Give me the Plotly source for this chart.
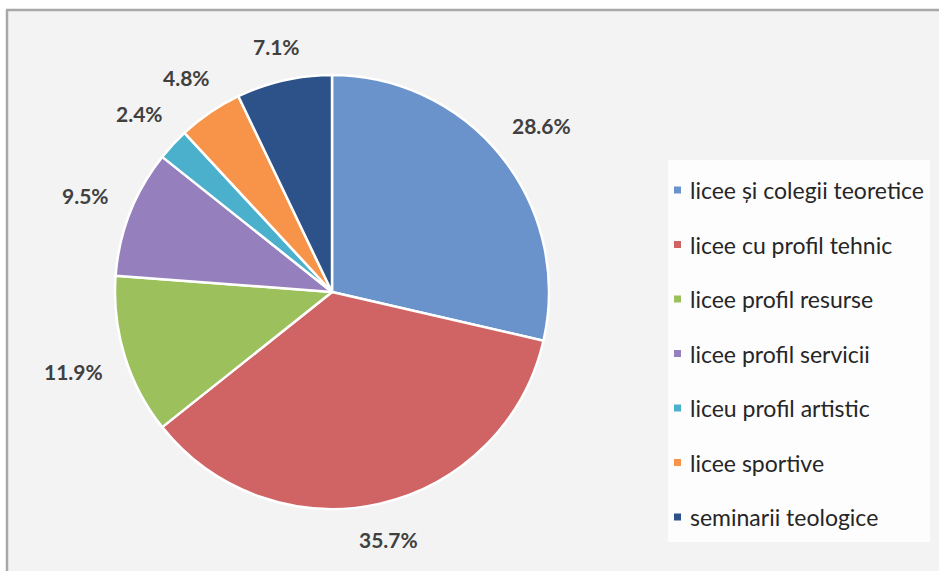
import math
import plotly.graph_objects as go

categories = [
    "licee și colegii teoretice",
    "licee cu profil tehnic",
    "licee profil resurse",
    "licee profil servicii",
    "liceu profil artistic",
    "licee sportive",
    "seminarii teologice",
]
values = [28.6, 35.7, 11.9, 9.5, 2.4, 4.8, 7.1]
labels_text = ["28.6%", "35.7%", "11.9%", "9.5%", "2.4%", "4.8%", "7.1%"]
colors = ["#6b93cb", "#d06464", "#9cc05c", "#9580bd", "#4bb0cb", "#f7944a", "#2c5289"]

W, H = 939, 571
# pie geometry (pixels)
cx, cy, R = 332, 292, 217

fig = go.Figure()
fig.add_trace(go.Pie(
    labels=categories,
    values=values,
    sort=False,
    direction="clockwise",
    rotation=0,
    marker=dict(colors=colors, line=dict(color="white", width=2.5)),
    textinfo="none",
    hoverinfo="label+percent",
    showlegend=False,
    domain=dict(x=[(cx - R) / W, (cx + R) / W], y=[1 - (cy + R) / H, 1 - (cy - R) / H]),
))

shapes = []
annotations = []

# chart frame
shapes.append(dict(type="rect", xref="paper", yref="paper", x0=7 / W, x1=1.01, y0=-0.01, y1=1 - 10 / H,
                   fillcolor="#f3f3f3", line=dict(width=0), layer="below"))
shapes.append(dict(type="line", xref="paper", yref="paper", x0=6 / W, x1=1.0, y0=1 - 10 / H, y1=1 - 10 / H,
                   line=dict(color="#a8a8a8", width=2.5), layer="below"))
shapes.append(dict(type="line", xref="paper", yref="paper", x0=7 / W, x1=7 / W, y0=0, y1=1 - 10 / H,
                   line=dict(color="#a8a8a8", width=2.5), layer="below"))

# data labels computed from slice mid-angles
total = sum(values)
cum = 0.0
gap = 22
for v, t in zip(values, labels_text):
    mid = (cum + v / 2) / total * 2 * math.pi
    cum += v
    s, c = math.sin(mid), math.cos(mid)
    w, h = len(t) * 12, 16
    d = R + gap + abs(s) * w / 2 + abs(c) * h / 2
    px = cx + d * s
    py = cy - d * c
    annotations.append(dict(x=px / W, y=1 - py / H, xref="paper", yref="paper", text="<b>%s</b>" % t,
                            showarrow=False, xanchor="center", yanchor="middle",
                            font=dict(family="Lato", size=21, color="#404040")))

# legend box
lx0, lx1, ly0, ly1 = 668, 930, 160, 542
shapes.append(dict(type="rect", xref="paper", yref="paper", x0=lx0 / W, x1=lx1 / W, y0=1 - ly1 / H, y1=1 - ly0 / H,
                   fillcolor="#fdfdfd", line=dict(width=0), layer="below"))
row0, step = 190, 54.5
for i, (cat, col) in enumerate(zip(categories, colors)):
    yy = row0 + i * step
    shapes.append(dict(type="rect", xref="paper", yref="paper",
                       x0=674 / W, x1=681 / W, y0=1 - (yy + 3.5) / H, y1=1 - (yy - 3.5) / H,
                       fillcolor=col, line=dict(width=0)))
    annotations.append(dict(x=688 / W, y=1 - yy / H, xref="paper", yref="paper", text=cat,
                            showarrow=False, xanchor="left", yanchor="middle",
                            font=dict(family="Lato", size=23, color="#262626")))

fig.update_layout(
    width=W, height=H,
    margin=dict(l=0, r=0, t=0, b=0),
    paper_bgcolor="white",
    plot_bgcolor="white",
    shapes=shapes,
    annotations=annotations,
    showlegend=False,
)

fig.write_html("out.html", config={"displayModeBar": False},
               post_script="document.body.style.margin='0px';document.body.style.overflow='hidden';")
